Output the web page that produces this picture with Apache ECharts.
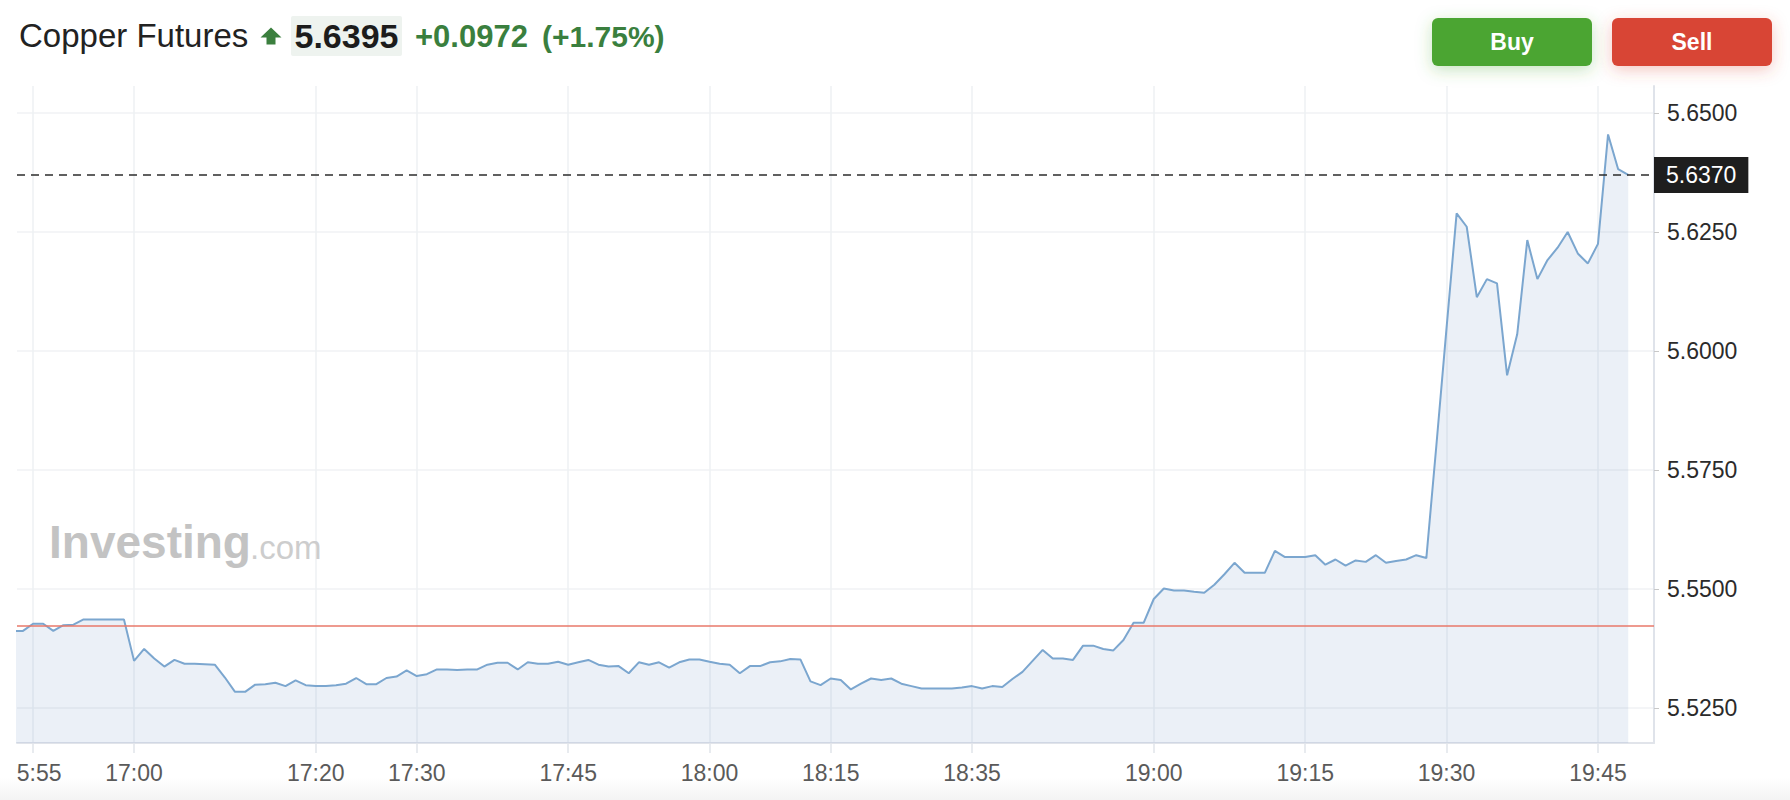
<!DOCTYPE html>
<html><head><meta charset="utf-8">
<script src="https://cdn.jsdelivr.net/npm/echarts@6/dist/echarts.min.js"></script>
<style>html,body{margin:0;padding:0;background:#fff}#c{width:1790px;height:800px}</style>
</head><body><div id="c"></div>
<script>
// ---- data ----
const instrument = 'Copper Futures';
const headPrice = '5.6395';
const headChange = '+0.0972';
const headPct = '(+1.75%)';
const prevClose = 5.5423;
const lastPrice = 5.6370;

const prices = [
 5.5412, 5.5412, 5.5427, 5.5427, 5.5412, 5.5424, 5.5425, 5.5436, 5.5436, 5.5436,
 5.5436, 5.5436, 5.5349, 5.5374, 5.5354, 5.5337, 5.5351, 5.5343, 5.5343, 5.5342,
 5.5341, 5.5314, 5.5284, 5.5284, 5.5299, 5.5300, 5.5303, 5.5296, 5.5308, 5.5298,
 5.5296, 5.5296, 5.5298, 5.5301, 5.5313, 5.5300, 5.5300, 5.5313, 5.5316, 5.5329,
 5.5317, 5.5321, 5.5331, 5.5331, 5.5330, 5.5331, 5.5331, 5.5341, 5.5345, 5.5345,
 5.5331, 5.5346, 5.5343, 5.5343, 5.5347, 5.5341, 5.5346, 5.5351, 5.5341, 5.5337,
 5.5338, 5.5323, 5.5346, 5.5341, 5.5346, 5.5335, 5.5346, 5.5352, 5.5352, 5.5347,
 5.5343, 5.5341, 5.5323, 5.5338, 5.5338, 5.5346, 5.5348, 5.5353, 5.5352, 5.5306,
 5.5298, 5.5312, 5.5309, 5.5289, 5.5301, 5.5312, 5.5309, 5.5312, 5.5301, 5.5296,
 5.5291, 5.5291, 5.5291, 5.5291, 5.5293, 5.5296, 5.5291, 5.5296, 5.5294, 5.5311,
 5.5326, 5.5349, 5.5372, 5.5354, 5.5354, 5.5351, 5.5381, 5.5381, 5.5374, 5.5371,
 5.5393, 5.5429, 5.5429, 5.5479, 5.5501, 5.5497, 5.5497, 5.5494, 5.5492, 5.5509,
 5.5531, 5.5555, 5.5534, 5.5534, 5.5534, 5.5580, 5.5567, 5.5567, 5.5567, 5.5571,
 5.5551, 5.5562, 5.5549, 5.5560, 5.5557, 5.5571, 5.5555, 5.5559, 5.5562, 5.5571,
 5.5565, 5.5803, 5.6048, 5.6289, 5.6261, 5.6113, 5.6151, 5.6142, 5.5949, 5.6035,
 5.6233, 5.6151, 5.6191, 5.6217, 5.6250, 5.6205, 5.6184, 5.6225, 5.6455, 5.6382,
 5.6370
];
// index of the data point at which each time label sits
const tickIndex  = [2, 12, 30, 40, 55, 69, 81, 95, 113, 128, 142, 157];
const tickLabels = ['5:55', '17:00', '17:20', '17:30', '17:45', '18:00', '18:15', '18:35', '19:00', '19:15', '19:30', '19:45'];
const yTicks = [5.525, 5.55, 5.575, 5.6, 5.625, 5.65];

// ---- chart ----
const FONT = 'Liberation Sans, Arial, Helvetica, sans-serif';
const chart = echarts.init(document.getElementById('c'), null, {renderer: 'svg'});

const seriesData = prices.map((v, i) => [i, v]);

function txt(o) {
  return {
    type: 'text', z: o.z || 10, silent: true,
    style: {
      x: o.x, y: o.y, text: o.text, fill: o.fill,
      fontSize: o.size, fontWeight: o.weight || 'normal', fontFamily: FONT,
      align: o.align || 'left', textAlign: o.align || 'left',
      verticalAlign: 'middle', textVerticalAlign: 'middle'
    }
  };
}

const option = {
  animation: false,
  backgroundColor: '#ffffff',
  textStyle: {fontFamily: FONT},
  grid: {left: 17, right: 136, top: 86, bottom: 57, containLabel: false},
  xAxis: {
    type: 'value', min: 0.406, max: 162.55,
    axisLine: {show: true, onZero: false, lineStyle: {color: '#e1e4ea', width: 2}},
    axisTick: {show: true, customValues: tickIndex, length: 10, lineStyle: {color: '#e1e4ea', width: 1.5}},
    axisLabel: {
      show: true, customValues: tickIndex, margin: 18,
      color: '#5a5a5a', fontSize: 23, fontFamily: FONT,
      formatter: function (v) {
        const k = tickIndex.indexOf(v);
        if (k < 0) return '';
        return k === 0 ? '{a|' + tickLabels[k] + '}' : tickLabels[k];
      },
      rich: {a: {padding: [0, 0, 0, 12], color: '#5a5a5a', fontSize: 23, fontFamily: FONT}}
    },
    splitLine: {show: true, lineStyle: {color: '#eef0f3', width: 1.5}}
  },
  yAxis: {
    type: 'value', position: 'right', min: 5.517647, max: 5.655672,
    axisLine: {show: true, onZero: false, lineStyle: {color: '#dfe3ea', width: 2}},
    axisTick: {show: true, customValues: yTicks, length: 5, lineStyle: {color: '#c8c8c8'}},
    axisLabel: {
      show: true, customValues: yTicks, margin: 13,
      color: '#2b2b2b', fontSize: 23, fontFamily: FONT,
      formatter: v => v.toFixed(4)
    },
    splitLine: {show: true, lineStyle: {color: '#f1f2f5', width: 1.5}}
  },
  series: [{
    type: 'line',
    data: seriesData,
    symbol: 'none', showSymbol: false,
    clip: true,
    lineStyle: {color: '#7ba6cf', width: 2},
    areaStyle: {color: 'rgba(70,115,180,0.15)', origin: 'start'},
    markLine: {
      silent: true, animation: false, precision: 4,
      symbol: ['none', 'none'],
      data: [
        {yAxis: prevClose, lineStyle: {color: '#e8786a', width: 1.5, type: 'solid'}, label: {show: false}},
        {yAxis: lastPrice, lineStyle: {color: '#2d2d2d', width: 1.5, type: [8, 6]},
         label: {show: true, position: 'end', distance: 0,
                 formatter: lastPrice.toFixed(4),
                 backgroundColor: '#1e1e1e', color: '#ffffff',
                 fontSize: 23, fontFamily: FONT, lineHeight: 24,
                 padding: [6, 12, 6, 12]}}
      ]
    }
  }],
  graphic: [
    // bottom fade
    {type: 'rect', z: -10, silent: true, shape: {x: 0, y: 778, width: 1790, height: 22},
     style: {fill: {type: 'linear', x: 0, y: 0, x2: 0, y2: 1,
       colorStops: [{offset: 0, color: 'rgba(244,244,244,0)'}, {offset: 1, color: '#f4f4f4'}]}}},
    // watermark
    txt({x: 49, y: 542, text: 'Investing', fill: '#c3c3c3', size: 46, weight: 'bold', z: 1}),
    txt({x: 250, y: 547, text: '.com', fill: '#cdcdcd', size: 33, z: 1}),
    // header
    txt({x: 19, y: 35, text: instrument, fill: '#222222', size: 33}),
    {type: 'polygon', z: 10, silent: true,
     shape: {points: [[271, 27.5], [281.5, 37.5], [275.5, 37.5], [275.5, 44.5], [266.5, 44.5], [266.5, 37.5], [260.5, 37.5]]},
     style: {fill: '#3b7f3e'}},
    {type: 'rect', z: 9, silent: true, shape: {x: 291, y: 16, width: 111, height: 40, r: 2}, style: {fill: '#eef3ef'}},
    txt({x: 346.5, y: 36, text: headPrice, fill: '#1c1c1c', size: 34, weight: 'bold', align: 'center'}),
    txt({x: 415, y: 36, text: headChange, fill: '#3a7f3e', size: 31, weight: 'bold'}),
    txt({x: 542, y: 36, text: headPct, fill: '#3a7f3e', size: 30, weight: 'bold'}),
    // buttons
    {type: 'rect', z: 9, silent: true, shape: {x: 1432, y: 18, width: 160, height: 48, r: 6},
     style: {fill: '#4ca532', shadowBlur: 16, shadowOffsetY: 4, shadowColor: 'rgba(76,165,50,0.30)'}},
    txt({x: 1512, y: 42, text: 'Buy', fill: '#ffffff', size: 23, weight: 'bold', align: 'center'}),
    {type: 'rect', z: 9, silent: true, shape: {x: 1612, y: 18, width: 160, height: 48, r: 6},
     style: {fill: '#d84534', shadowBlur: 16, shadowOffsetY: 4, shadowColor: 'rgba(216,69,52,0.30)'}},
    txt({x: 1692, y: 42, text: 'Sell', fill: '#ffffff', size: 23, weight: 'bold', align: 'center'})
  ]
};
chart.setOption(option);
</script></body></html>
